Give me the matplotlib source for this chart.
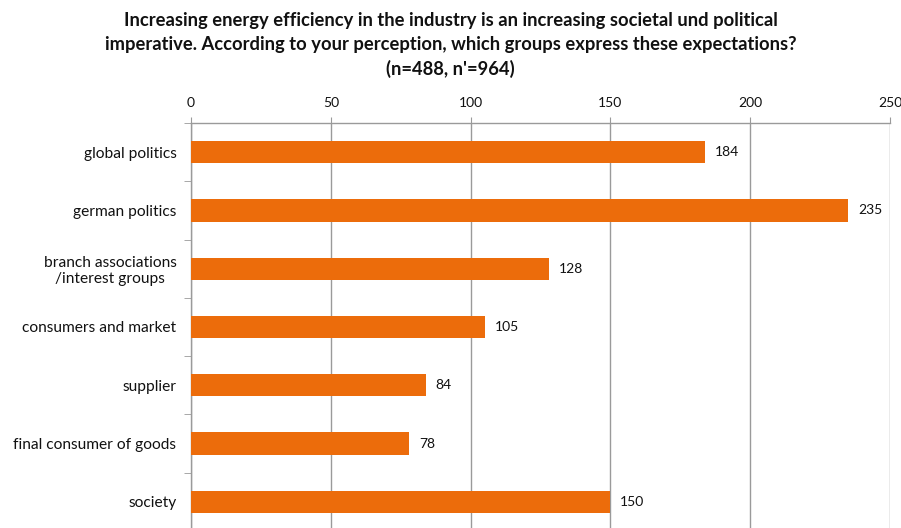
import matplotlib.pyplot as plt
import numpy as np

plt.rcParams['font.family'] = ['Lato', 'DejaVu Sans']

categories = ['global politics', 'german politics', 'branch associations\n/interest groups',
              'consumers and market', 'supplier', 'final consumer of goods', 'society']
counts = [184, 235, 128, 105, 84, 78, 150]
x_ticks = [0, 50, 100, 150, 200, 250]

title = ('Increasing energy efficiency in the industry is an increasing societal und political\n'
         'imperative. According to your perception, which groups express these expectations?\n'
         "(n=488, n'=964)")

bar_color = '#EC6C0B'
grid_color = '#9A9A9A'

fig = plt.figure(figsize=(9.01, 5.28), dpi=100)
W, H = 901, 528
# axes box in pixels: left 191, right 890, top 123, bottom 531
ax = fig.add_axes([191 / W, 1 - 531 / H, (890 - 191) / W, (531 - 123) / H])

y = np.arange(len(categories))
ax.barh(y, counts, height=0.38, color=bar_color, zorder=3)
for yi, v in zip(y, counts):
    ax.text(v + 3.5, yi, str(v), va='center', ha='left', fontsize=10, color='#111111')

ax.set_xlim(0, 250)
ax.set_ylim(len(categories) - 0.5, -0.5)
ax.set_xticks(x_ticks)
ax.xaxis.tick_top()
ax.tick_params(axis='x', length=4, color=grid_color, labelsize=10, pad=6, labelcolor='#111111')
ax.grid(axis='x', color=grid_color, linewidth=1, zorder=0)

ax.set_yticks(y)
ax.set_yticklabels(categories, fontsize=11.2, color='#111111')
for lbl in ax.get_yticklabels():
    lbl.set_multialignment('center')
ax.set_yticks(np.arange(len(categories) + 1) - 0.5, minor=True)
ax.tick_params(axis='y', which='major', length=0, pad=10.5)
ax.tick_params(axis='y', which='minor', length=5, color=grid_color)

for s in ['right', 'bottom']:
    ax.spines[s].set_visible(False)
for s in ['top', 'left']:
    ax.spines[s].set_color(grid_color)
    ax.spines[s].set_linewidth(1)

fig.text(0.5, 0.978, title, ha='center', va='top', fontsize=13.2, fontweight='bold',
         linespacing=1.5, color='#111111')

fig.savefig('out.png', dpi=100)
